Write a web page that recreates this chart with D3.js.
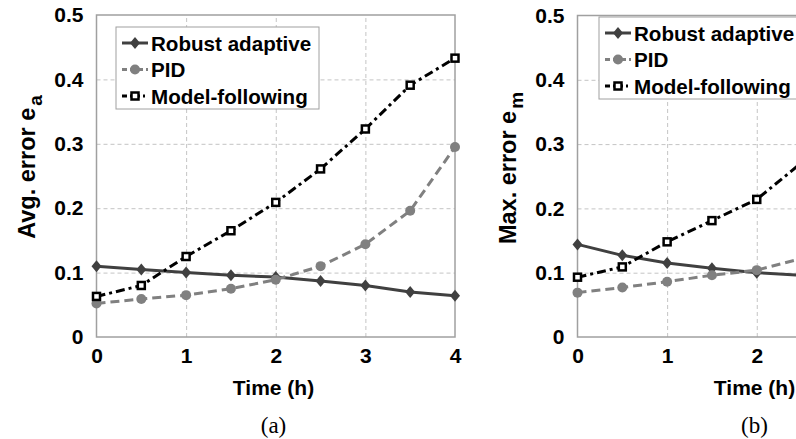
<!DOCTYPE html>
<html>
<head>
<meta charset="utf-8">
<script src="https://cdn.jsdelivr.net/npm/d3@7"></script>
<style>
  body { margin: 0; background: #fff; }
  svg { display: block; }
  .tick text { font-family: "Liberation Sans", Arial, sans-serif; font-weight: bold; font-size: 21px; fill: #000; }
  .axis path, .axis line { display: none; }
  .grid line { stroke: #c4c4c4; stroke-width: 1; stroke-dasharray: 4,3; }
  .grid path { display: none; }
  .title { font-family: "Liberation Sans", Arial, sans-serif; font-weight: bold; font-size: 21px; fill: #000; }
  .ytitle { font-size: 23.5px; }
  .legend text { font-family: "Liberation Sans", Arial, sans-serif; font-weight: bold; font-size: 20.6px; fill: #000; }
  .caption { font-family: "Liberation Serif", "Times New Roman", serif; font-size: 23px; fill: #000; }
</style>
</head>
<body>
<svg id="chart" width="796" height="439"></svg>
<script>
// time axis (h)
var timeA = [0, 0.5, 1, 1.5, 2, 2.5, 3, 3.5, 4];
var timeB = [0, 0.5, 1, 1.5, 2, 2.5];

// panel (a): average error
var robustAvg = [0.110, 0.105, 0.100, 0.096, 0.093, 0.087, 0.080, 0.070, 0.064];
var pidAvg    = [0.052, 0.059, 0.065, 0.075, 0.089, 0.110, 0.144, 0.196, 0.295];
var modelAvg  = [0.063, 0.080, 0.125, 0.165, 0.209, 0.261, 0.323, 0.391, 0.433];

// panel (b): maximum error (cut off at right edge of the picture)
var robustMax = [0.144, 0.127, 0.115, 0.107, 0.100, 0.096];
var pidMax    = [0.069, 0.077, 0.086, 0.096, 0.104, 0.122];
var modelMax  = [0.093, 0.109, 0.148, 0.181, 0.214, 0.271];

var xTicks = [0, 1, 2, 3, 4];
var yTicks = [0, 0.1, 0.2, 0.3, 0.4, 0.5];
var seriesNames = ["Robust adaptive", "PID", "Model-following"];

var styles = [
  {color: "#404040", dash: null, marker: "diamond"},
  {color: "#808080", dash: "9,5", marker: "circle"},
  {color: "#000000", dash: "9,4,3,4", marker: "square"}
];

var W = 796;
var svg = d3.select("#chart");

function drawPanel(cfg) {
  var x = d3.scaleLinear().domain([0, 4]).range([cfg.left, cfg.right]);
  var y = d3.scaleLinear().domain([0, 0.5]).range([cfg.bottom, cfg.top]);
  var g = svg.append("g");
  // only label ticks that fall inside the picture
  var shownTicks = xTicks.filter(function (t) { return x(t) + 8 < W; });

  // grid
  g.append("g").attr("class", "grid")
    .attr("transform", "translate(0," + cfg.bottom + ")")
    .call(d3.axisBottom(x).tickValues([1, 2, 3]).tickSize(-(cfg.bottom - cfg.top)).tickFormat(""));
  g.append("g").attr("class", "grid")
    .attr("transform", "translate(" + cfg.left + ",0)")
    .call(d3.axisLeft(y).tickValues([0.1, 0.2, 0.3, 0.4]).tickSize(-(cfg.right - cfg.left)).tickFormat(""));

  // frame
  g.append("rect")
    .attr("x", cfg.left).attr("y", cfg.top)
    .attr("width", cfg.right - cfg.left).attr("height", cfg.bottom - cfg.top)
    .attr("fill", "none").attr("stroke", "#a0a0a0").attr("stroke-width", 1.5);

  // tick labels
  g.append("g").attr("class", "axis")
    .attr("transform", "translate(0," + cfg.bottom + ")")
    .call(d3.axisBottom(x).tickValues(shownTicks).tickSize(0).tickPadding(11).tickFormat(d3.format("d")));
  g.append("g").attr("class", "axis")
    .attr("transform", "translate(" + cfg.left + ",0)")
    .call(d3.axisLeft(y).tickValues(yTicks).tickSize(0).tickPadding(13)
      .tickFormat(function (d) { return d === 0 ? "0" : d3.format(".1f")(d); }));

  // series
  cfg.series.forEach(function (vals, i) {
    var st = styles[i];
    var pts = vals.map(function (v, j) { return [cfg.time[j], v]; });
    var line = d3.line().x(function (d) { return x(d[0]); }).y(function (d) { return y(d[1]); });
    g.append("path").datum(pts)
      .attr("d", line)
      .attr("fill", "none")
      .attr("stroke", st.color)
      .attr("stroke-width", 3)
      .attr("stroke-dasharray", st.dash);
    pts.forEach(function (p) {
      drawMarker(g, st, x(p[0]), y(p[1]));
    });
  });

  // legend
  var lg = g.append("g").attr("class", "legend");
  lg.append("rect")
    .attr("x", cfg.legX).attr("y", cfg.legY).attr("width", 203).attr("height", 82)
    .attr("fill", "#fff").attr("stroke", "#a0a0a0").attr("stroke-width", 1);
  seriesNames.forEach(function (name, i) {
    var st = styles[i];
    var yy = cfg.legY + 16 + i * 26.5;
    lg.append("line")
      .attr("x1", cfg.legX + 6).attr("x2", cfg.legX + 32)
      .attr("y1", yy).attr("y2", yy)
      .attr("stroke", st.color).attr("stroke-width", 3)
      .attr("stroke-dasharray", i === 1 ? "5,3" : (i === 2 ? "5,3,2,3" : null));
    drawMarker(lg, st, cfg.legX + 19, yy);
    lg.append("text")
      .attr("x", cfg.legX + 35).attr("y", yy + 7.5)
      .text(name);
  });

  // axis titles
  g.append("text").attr("class", "title")
    .attr("x", (cfg.left + cfg.left + 358) / 2 - 2).attr("y", 395)
    .attr("text-anchor", "middle")
    .text("Time (h)");

  var yt = g.append("text").attr("class", "title ytitle")
    .attr("transform", "translate(" + cfg.yTitleX + "," + cfg.yTitleY + ") rotate(-90)")
    .attr("text-anchor", "middle");
  yt.append("tspan").text(cfg.yTitle);
  yt.append("tspan").attr("dx", 2).attr("dy", 7).attr("font-size", "19px").text(cfg.yTitleSub);

  g.append("text").attr("class", "caption")
    .attr("x", (cfg.left + cfg.left + 358) / 2 - 2).attr("y", 433)
    .attr("text-anchor", "middle")
    .text(cfg.caption);
}

function drawMarker(g, st, cx, cy) {
  if (st.marker === "diamond") {
    g.append("path")
      .attr("d", "M" + cx + "," + (cy - 6) + "L" + (cx + 5) + "," + cy + "L" + cx + "," + (cy + 6) + "L" + (cx - 5) + "," + cy + "Z")
      .attr("fill", st.color);
  } else if (st.marker === "circle") {
    g.append("circle").attr("cx", cx).attr("cy", cy).attr("r", 5).attr("fill", st.color);
  } else {
    g.append("rect")
      .attr("x", cx - 3.5).attr("y", cy - 3.5).attr("width", 7).attr("height", 7)
      .attr("fill", "#fff").attr("stroke", st.color).attr("stroke-width", 2.5);
  }
}

drawPanel({
  left: 96.5, right: 455, top: 15, bottom: 337,
  time: timeA, series: [robustAvg, pidAvg, modelAvg],
  legX: 116, legY: 27,
  yTitle: "Avg. error e", yTitleSub: "a", yTitleX: 35, yTitleY: 167,
  caption: "(a)"
});

drawPanel({
  left: 577.5, right: 936, top: 15.5, bottom: 337,
  time: timeB, series: [robustMax, pidMax, modelMax],
  legX: 599, legY: 17,
  yTitle: "Max. error e", yTitleSub: "m", yTitleX: 516, yTitleY: 168,
  caption: "(b)"
});
</script>
</body>
</html>
